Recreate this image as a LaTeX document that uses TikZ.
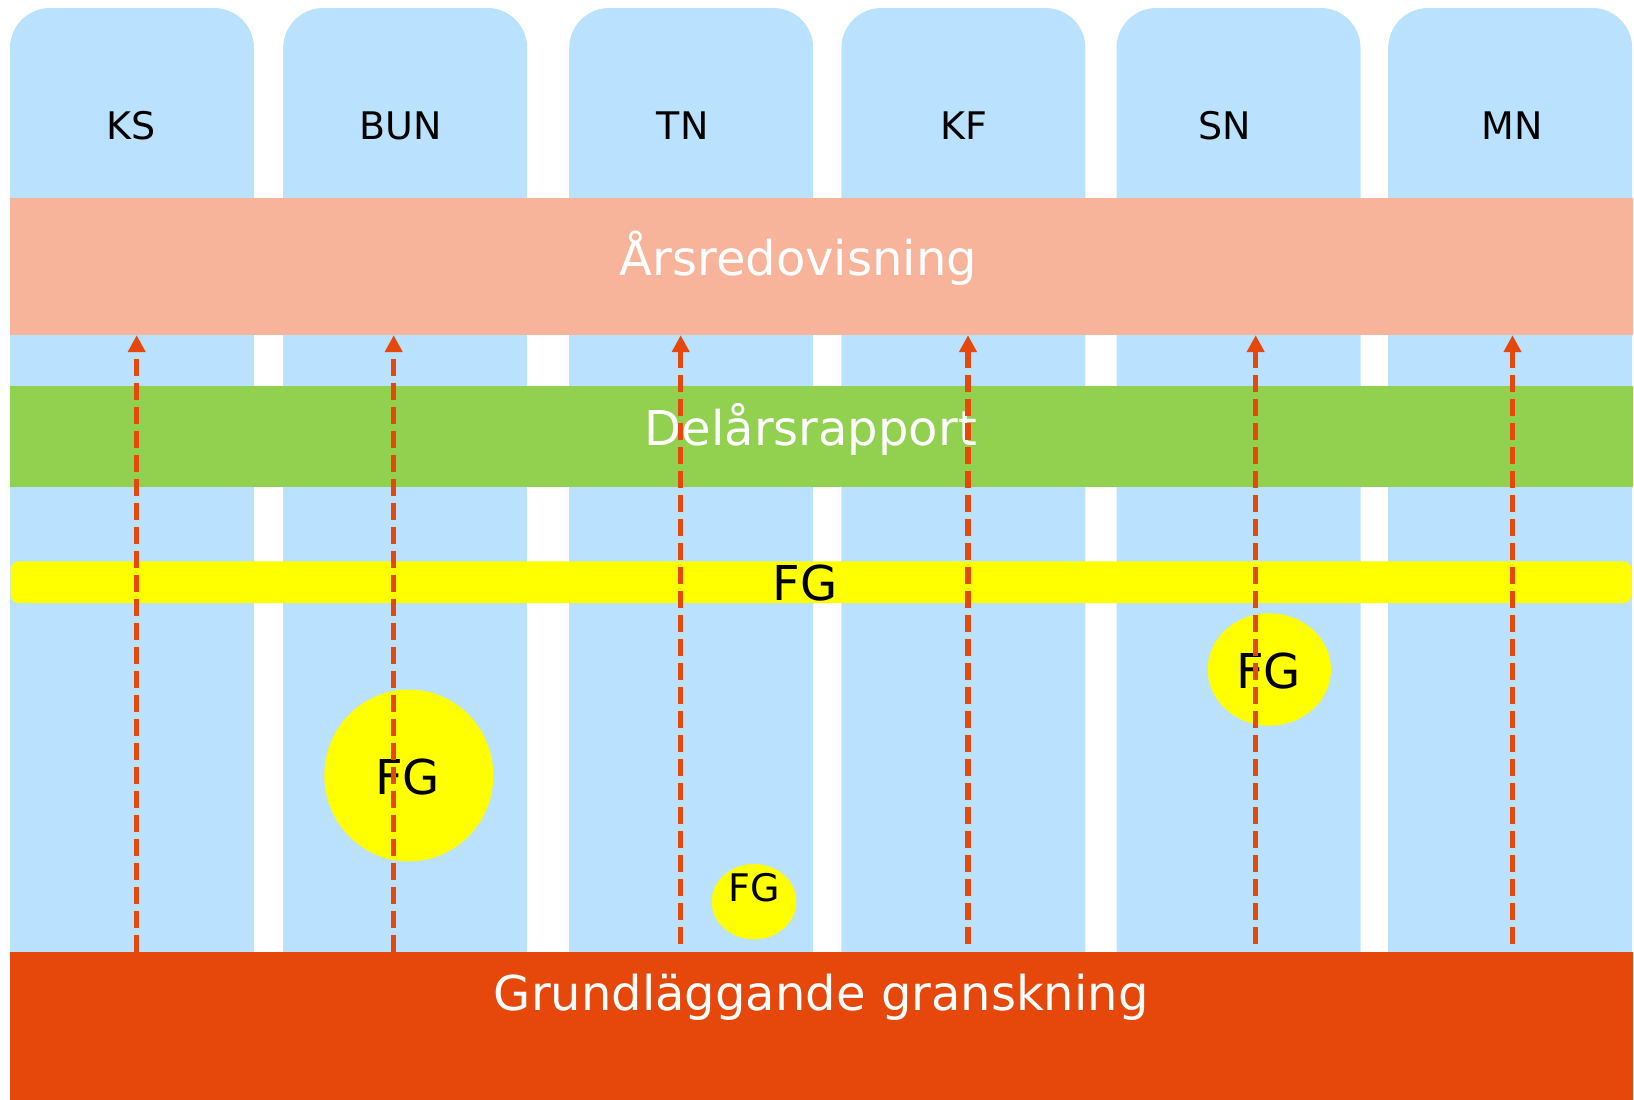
\documentclass[tikz,border=0pt]{standalone}
\usepackage{fontspec}
\setmainfont{DejaVu Sans}
\usetikzlibrary{shapes.geometric,arrows.meta}

\definecolor{colblue}{HTML}{BAE1FD}
\definecolor{salmon}{HTML}{F8B39B}
\definecolor{grass}{HTML}{92D050}
\definecolor{redorange}{HTML}{E6470A}
\definecolor{fgyellow}{RGB}{255,255,0}

\tikzset{
	colbox/.style={rectangle, fill=colblue, rounded corners=40pt, minimum width=244pt, minimum height=992pt, inner sep=0pt},
	band/.style={rectangle, minimum width=1623pt, inner sep=0pt},
	head/.style={font=\fontsize{38}{44}\selectfont, anchor=base, inner sep=0pt},
	bandtxt/.style={font=\fontsize{48}{56}\selectfont, text=white, anchor=base, inner sep=0pt},
	fgtxt/.style={font=\fontsize{48}{56}\selectfont, anchor=base, inner sep=0pt},
	fgblob/.style={ellipse, fill=fgyellow, inner sep=0pt},
	arr/.style={-{Triangle[length=17pt,width=17pt]}, draw=redorange, line width=5.3pt, dash pattern=on 17pt off 7pt}
}

\begin{document}
\begin{tikzpicture}[x=1pt,y=-1pt]
	\useasboundingbox (0,0) rectangle (1634,1100);

	% columns
	\node[colbox] (ks) at (132,504) {};
	\node[colbox] (bun) at (405.2,504) {};
	\node[colbox] (tn) at (691.2,504) {};
	\node[colbox] (kf) at (963.4,504) {};
	\node[colbox] (sn) at (1238.5,504) {};
	\node[colbox] (mn) at (1510.2,504) {};

	\node[head] (kst) at (131,139.3) {KS};
	\node[head] (bunt) at (400.7,139.3) {BUN};
	\node[head] (tnt) at (682.6,139.3) {TN};
	\node[head] (kft) at (964,139.3) {KF};
	\node[head] (snt) at (1224.5,139.3) {SN};
	\node[head] (mnt) at (1512,139.3) {MN};

	% bands
	\node[band, fill=salmon, minimum height=137pt] (ars) at (821.5,266.5) {};
	\node[band, fill=grass, minimum height=100.7pt] (del) at (821.5,436.3) {};
	\node[band, fill=fgyellow, rounded corners=8pt, minimum width=1621pt, minimum height=41.7pt] (fgbar) at (821,582.2) {};

	\node[bandtxt] (arst) at (798.3,275.7) {Årsredovisning};
	\node[bandtxt] (delt) at (810.8,445) {Delårsrapport};
	\node[fgtxt] (fgbart) at (805,600.3) {FG};

	% FG blobs
	\node[fgblob, minimum width=169pt, minimum height=172pt] (fgbun) at (408.8,775.5) {};
	\node[fgblob, minimum width=123.4pt, minimum height=112.4pt] (fgsn) at (1269.3,669.5) {};
	\node[fgblob, minimum width=84.6pt, minimum height=75.4pt] (fgtn) at (754,901.7) {};

	\node[fgtxt] (fgbunt) at (407.5,794) {FG};
	\node[fgtxt] (fgsnt) at (1268.7,688.3) {FG};
	\node[fgtxt, font=\fontsize{38}{44}\selectfont] (fgtnt) at (754,901) {FG};

	% arrows
	\coordinate (aks) at (136.7,951.7);
	\coordinate (abun) at (393.7,951.7);
	\coordinate (atn) at (680.7,944);
	\coordinate (akf) at (968,944);
	\coordinate (asn) at (1255.7,944);
	\coordinate (amn) at (1512.5,944);

	\draw[arr] (aks) -- (aks |- ars.south);
	\draw[arr] (abun) -- (abun |- ars.south);
	\draw[arr] (atn) -- (atn |- ars.south);
	\draw[arr] (akf) -- (akf |- ars.south);
	\draw[arr] (asn) -- (asn |- ars.south);
	\draw[arr] (amn) -- (amn |- ars.south);

	% bottom
	\node[band, fill=redorange, minimum height=148.3pt] (gg) at (821.5,1025.85) {};
	\node[bandtxt] (ggt) at (821.2,1010.7) {Grundläggande granskning};
\end{tikzpicture}
\end{document}
